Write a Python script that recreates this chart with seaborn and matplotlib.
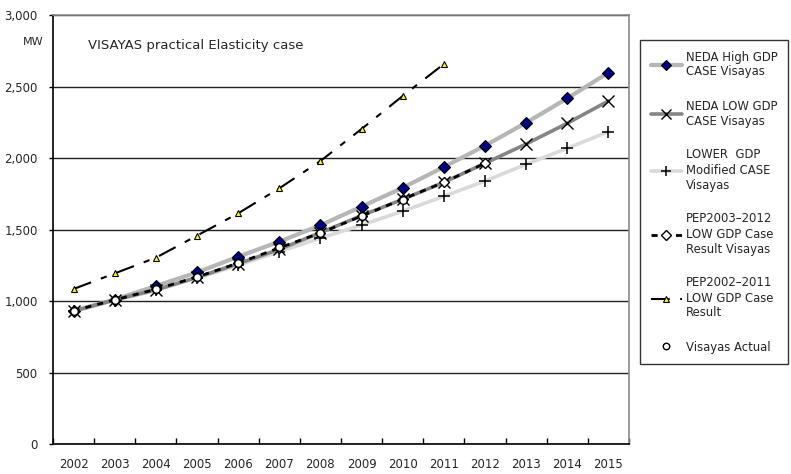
import numpy as np
import pandas as pd
import seaborn as sns
import matplotlib
matplotlib.use("Agg")
import matplotlib.pyplot as plt
from matplotlib.lines import Line2D
from matplotlib.ticker import FixedLocator, FuncFormatter

# Peak demand projections for Visayas (MW)
years = ["2002", "2003", "2004", "2005", "2006", "2007", "2008",
         "2009", "2010", "2011", "2012", "2013", "2014", "2015"]
neda_high = [930, 1010, 1105, 1200, 1310, 1415, 1530, 1660, 1792, 1937,
             2086, 2247, 2417, 2597]
neda_low = [930, 1008, 1078, 1165, 1261, 1361, 1478, 1597, 1711, 1830,
            1963, 2098, 2243, 2399]
lower_mod = [928, 1003, 1075, 1160, 1250, 1345, 1440, 1531, 1628, 1732,
             1839, 1956, 2068, 2184]
pep2003 = [932, 1008, 1082, 1168, 1265, 1372, 1476, 1594, 1712, 1830, 1963]
pep2002 = [1084, 1193, 1303, 1457, 1613, 1788, 1979, 2203, 2434, 2657]
actual = [932, 1008, 1085, 1170, 1268, 1375, 1478, 1594, 1708]

sns.set_style("white")
plt.rcParams["font.family"] = ["DejaVu Sans"]

fig = plt.figure(figsize=(7.91, 4.74), dpi=100)
ax = fig.add_axes([53 / 791, 30 / 474, 576 / 791, 429 / 474])

pos = np.arange(len(years))


def frame(vals):
    return pd.DataFrame({"x": pos[:len(vals)], "y": vals})


series = [
    (lower_mod, dict(color="#dadada", lw=2.6, marker="+", ms=9, mec="black",
                     mew=1.1), "LOWER  GDP\nModified CASE\nVisayas"),
    (neda_high, dict(color="#b6b6b6", lw=3.0, marker="D", ms=6.5, mfc="#000080",
                     mec="black", mew=0.8), "NEDA High GDP\nCASE Visayas"),
    (neda_low, dict(color="#858585", lw=2.6, marker="x", ms=9, mec="black",
                    mew=1.0), "NEDA LOW GDP\nCASE Visayas"),
    (pep2003, dict(color="black", lw=2.0, ls=(0, (2.2, 2.2)), marker="D", ms=5.5,
                   mfc="white", mec="black", mew=1.0),
     "PEP2003\u20132012\nLOW GDP Case\nResult Visayas"),
    (actual, dict(color="none", lw=0, marker="o", ms=5.5, mfc="white",
                  mec="black", mew=1.0), "Visayas Actual"),
    (pep2002, dict(color="black", lw=1.5, ls=(0, (9, 5, 3, 5)), marker="^",
                   ms=5, mfc="#ffff00", mec="black", mew=0.8),
     "PEP2002\u20132011\nLOW GDP Case\nResult"),
]

for vals, kw, label in series:
    sns.lineplot(data=frame(vals), x="x", y="y", ax=ax, color=kw["color"],
                 linewidth=kw["lw"], linestyle=kw.get("ls", "-"),
                 marker=kw["marker"], markersize=kw["ms"],
                 markerfacecolor=kw.get("mfc", "none"),
                 markeredgecolor=kw["mec"], markeredgewidth=kw["mew"],
                 legend=False, zorder=3)

ax.set_xlim(-0.5, len(years) - 0.5)
ax.set_ylim(0, 3000)
ax.set_xlabel("")
ax.set_ylabel("")

# category labels centred, tick marks on category boundaries
ax.xaxis.set_major_locator(FixedLocator(np.arange(-0.5, len(years), 1.0)))
ax.xaxis.set_major_formatter(FuncFormatter(lambda v, p: ""))
ax.set_xticks(pos, minor=True)
ax.set_xticklabels(years, minor=True, fontsize=8.5)
ax.tick_params(axis="x", which="major", direction="in", length=4, width=1,
               color="black", bottom=True)
ax.tick_params(axis="x", which="minor", length=0, pad=10)

ax.set_yticks(np.arange(0, 3001, 500))
ax.yaxis.set_major_formatter(FuncFormatter(lambda v, p: f"{int(v):,}"))
ax.tick_params(axis="y", direction="out", length=3, width=1, color="black",
               left=True, labelsize=8.5, pad=8)

ax.grid(axis="y", color="#222222", lw=1)
ax.set_axisbelow(True)
for side in ("left", "bottom"):
    ax.spines[side].set_color("black")
    ax.spines[side].set_linewidth(1.2)
for side in ("top", "right"):
    ax.spines[side].set_color("#8a8a8a")
    ax.spines[side].set_linewidth(1.2)

ax.text(0.06, 0.93, "VISAYAS practical Elasticity case", transform=ax.transAxes,
        fontsize=9.5, va="center", ha="left")
fig.text(33 / 791, 1 - 42 / 474, "MW", fontsize=8, ha="center", va="center")

# legend in the original series order
order = [1, 2, 0, 3, 5, 4]
handles = []
labels = []
for i in order:
    vals, kw, label = series[i]
    handles.append(Line2D([], [], color=kw["color"], lw=kw["lw"],
                          ls=kw.get("ls", "-"), marker=kw["marker"],
                          ms=kw["ms"] * 0.85, mfc=kw.get("mfc", "none"),
                          mec=kw["mec"], mew=kw["mew"]))
    labels.append(label)

leg = fig.legend(handles, labels, loc="upper left",
                 bbox_to_anchor=(640 / 791, 1 - 40 / 474), fontsize=8.4,
                 frameon=True, fancybox=False, edgecolor="black",
                 handlelength=2.7, handletextpad=0.3, labelspacing=1.8,
                 borderpad=0.9, borderaxespad=0)
leg.get_frame().set_linewidth(1.0)

fig.savefig("out.png", dpi=100)
